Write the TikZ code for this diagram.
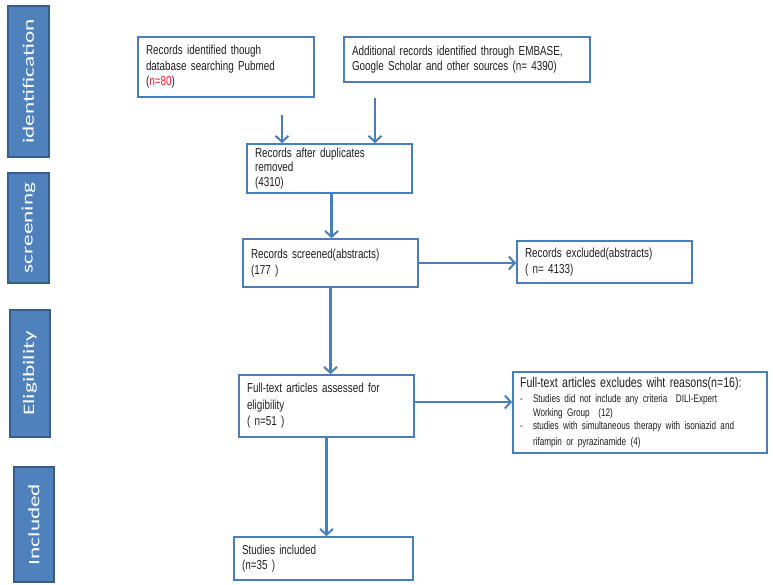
\documentclass[tikz,border=0pt]{standalone}
\usepackage{fontspec}
\setmainfont{Carlito}
\newfontfamily\boxfont[FakeStretch=0.76]{Liberation Sans}
\newfontfamily\narrowfont[FakeStretch=0.74]{Liberation Sans}
\newfontfamily\sidefont[FakeStretch=1.45]{Carlito}
\usetikzlibrary{arrows.meta}
\definecolor{boxblue}{HTML}{4A7EBB}
\definecolor{sidefill}{HTML}{4F81BD}
\definecolor{sideborder}{HTML}{385D8A}
\definecolor{txt}{HTML}{1E1E1E}
\definecolor{nred}{HTML}{E8202A}
\newcommand\tightsp{\spaceskip=2.2pt plus 0.5pt\relax}
\begin{document}
\begin{tikzpicture}[x=1pt,y=-1pt,
  box/.style={draw=boxblue, line width=1.6pt, fill=white, align=left, inner xsep=8pt, inner ysep=1pt, text=txt,
    font=\boxfont\fontsize{13}{15.5}\selectfont\tightsp},
  side/.style={draw=sideborder, line width=1.2pt, fill=sidefill, rotate=90, text=white, inner sep=0pt,
    font=\sidefont\fontsize{16}{18}\selectfont},
  arr/.style={draw=boxblue, line width=2.2pt, -{Straight Barb[length=6pt,width=13pt,line width=2pt]}}]
\useasboundingbox (0,0) rectangle (773,585);

% stage labels
\node[side, minimum width=151pt, minimum height=41pt] (s1) at (28.5,81.5) {identification};
\node[side, minimum width=110pt, minimum height=41pt] (s2) at (28.5,228) {screening};
\node[side, minimum width=127pt, minimum height=40pt] (s3) at (30,373.5) {Eligibility};
\node[side, minimum width=115pt, minimum height=40pt] (s4) at (34,524.5) {Included};

% boxes
\node[box, minimum width=176pt, text width=160pt, minimum height=60pt] (b1) at (226,67)
  {Records identified though\\database searching Pubmed\\(\textcolor{nred}{n=80})};
\node[box, minimum width=246pt, text width=230pt, minimum height=45pt] (b2) at (467,59.5)
  {Additional records identified through EMBASE,\\Google Scholar and other sources (n= 4390)};
\node[box, minimum width=165pt, text width=149pt, minimum height=49pt, font=\boxfont\fontsize{13}{14.5}\selectfont\tightsp] (b3) at (329.5,168.5)
  {Records after duplicates\\removed\\(4310)};
\node[box, minimum width=175pt, text width=159pt, minimum height=48pt] (b4) at (330.5,263)
  {Records screened(abstracts)\\(177 )};
\node[box, minimum width=175pt, text width=159pt, minimum height=42pt] (b5) at (604.5,262)
  {Records excluded(abstracts)\\( n= 4133)};
\node[box, minimum width=175pt, text width=159pt, minimum height=62pt, font=\boxfont\fontsize{13}{16.5}\selectfont\tightsp] (b6) at (326.5,406)
  {Full-text articles assessed for\\eligibility\\( n=51 )};
\node[box, minimum width=254pt, text width=240pt, minimum height=81pt, inner xsep=7pt] (b7) at (640,412.5)
  {{\fontsize{14}{15.5}\selectfont Full-text articles excludes wiht reasons(n=16):}\\[2pt]
   {\narrowfont\fontsize{11}{13.5}\selectfont
   \makebox[13pt][l]{-}Studies did not include any criteria\ \ DILI-Expert\\
   \hspace*{13pt}Working Group\ \ (12)\\
   \makebox[13pt][l]{-}studies with simultaneous therapy with isoniazid and\\
   \hspace*{13pt}rifampin or pyrazinamide (4)}};
\node[box, minimum width=179pt, text width=163pt, minimum height=43pt] (b8) at (323.5,558.5)
  {Studies included\\ (n=35 )};

% connectors
\coordinate (c1) at (282,115);
\coordinate (c2) at (375,98);
\draw[arr] (c1) -- (c1 |- b3.north);
\draw[arr] (c2) -- (c2 |- b3.north);
\draw[arr] ([xshift=2pt]b3.south) -- ([xshift=2pt]b3.south |- b4.north);
\draw[arr] (b4.east) -- (b4.east -| b5.west);
\draw[arr] (b4.south) -- (b4.south |- b6.north);
\draw[arr] ([yshift=4pt]b6.east) -- ([yshift=4pt]b6.east -| b7.west);
\draw[arr] (b6.south) -- (b6.south |- b8.north);
\end{tikzpicture}
\end{document}
